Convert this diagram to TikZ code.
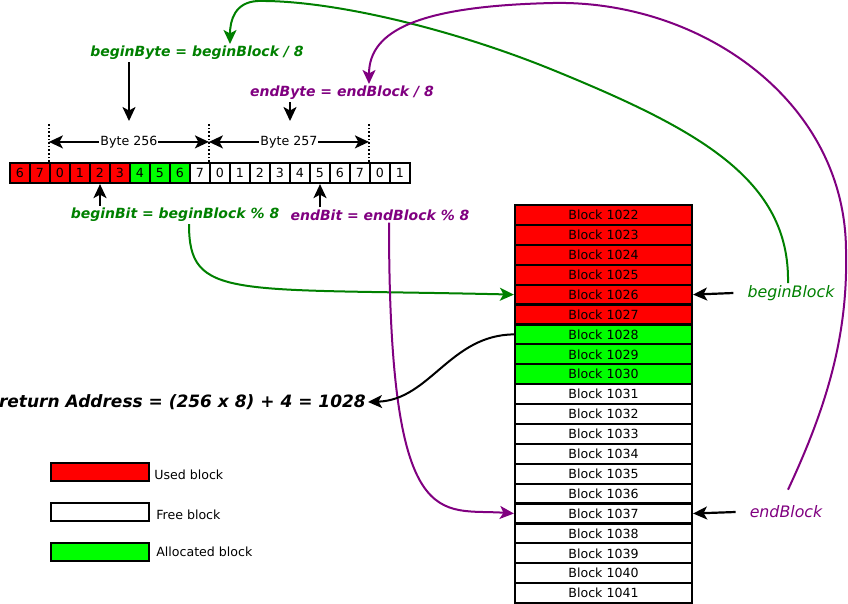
\documentclass[tikz,border=0pt]{standalone}
\usepackage{fontspec}
\setmainfont{DejaVu Sans}
\usetikzlibrary{arrows.meta,positioning}

\definecolor{usedc}{RGB}{255,0,0}
\definecolor{allocc}{RGB}{0,255,0}
\definecolor{grn}{RGB}{0,128,0}
\definecolor{prp}{RGB}{128,0,128}

\begin{document}
\begin{tikzpicture}[
    x=1pt, y=-1pt,
    >={Stealth[length=14pt,width=13pt,inset=3.5pt]},
    font=\fontsize{12.6}{14}\selectfont,
    blk/.style={rectangle, draw, line width=2.2pt, minimum width=177pt, minimum height=19.9pt, inner sep=0pt},
    bitcell/.style={rectangle, draw, line width=2.2pt, minimum width=20pt, minimum height=20pt, inner sep=0pt},
    legbox/.style={rectangle, draw, line width=2.2pt, minimum width=98pt, minimum height=18pt, inner sep=0pt},
    formula/.style={font=\fontsize{14}{16}\selectfont\bfseries\itshape, inner sep=2pt},
    ptrlbl/.style={font=\fontsize{15.8}{18}\selectfont\itshape, inner sep=2pt},
    arrow/.style={->, line width=2.2pt},
    curve/.style={->, line width=2pt}
]
\useasboundingbox (0,0) rectangle (848,604);

% Block column
\foreach \c [count=\i from 0] in {usedc,usedc,usedc,usedc,usedc,usedc,allocc,allocc,allocc,white,white,white,white,white,white,white,white,white,white,white} {
    \pgfmathtruncatemacro\n{1022+\i}
    \node[blk, fill=\c] (blk\i) at (603.5,{215+19.9*\i}) {Block \n};
}

% Bitmap row
\foreach \d/\c [count=\i from 0] in {6/usedc,7/usedc,0/usedc,1/usedc,2/usedc,3/usedc,4/allocc,5/allocc,6/allocc,7/white,0/white,1/white,2/white,3/white,4/white,5/white,6/white,7/white,0/white,1/white}
    \node[bitcell, fill=\c] (bit\i) at ({20+20*\i},173) {\d};

% Byte limits
\draw[dotted, line width=1.6pt] (bit2.north west) -- ++(0,-38);
\draw[dotted, line width=1.6pt] (bit10.north west) -- ++(0,-38);
\draw[dotted, line width=1.6pt] (bit18.north west) -- ++(0,-38);
\draw[<->, line width=1.8pt] ([yshift=20]bit2.north west) -- node[fill=white, inner sep=1pt] {Byte 256} ([yshift=20]bit10.north west);
\draw[<->, line width=1.8pt] ([yshift=20]bit10.north west) -- node[fill=white, inner sep=1pt] {Byte 257} ([yshift=20]bit18.north west);

% Formulas
\node[formula, text=grn] (bbyte) at (197,53) {beginByte = beginBlock / 8};
\node[formula, text=prp] (ebyte) at (342,93) {endByte = endBlock / 8};
\node[formula, text=grn] (bbit) at (175,215) {beginBit = beginBlock \% 8};
\node[formula, text=prp] (ebit) at (380,215) {endBit = endBlock \% 8};
\node[formula, font=\fontsize{17}{19}\selectfont\bfseries\itshape, anchor=east] (ret) at (368,402) {return Address = (256 x 8) + 4 = 1028};

% Pointers
\node[ptrlbl, text=grn] (bblock) at (791,293) {beginBlock};
\node[ptrlbl, text=prp] (eblock) at (786,512) {endBlock};

% Legend
\node[legbox, fill=usedc] (leg1) at (100,472) {};
\node[right=4pt of leg1, inner sep=0pt, yshift=-3pt] {Used block};
\node[legbox, fill=white] (leg2) at (100,512) {};
\node[right=6pt of leg2, inner sep=0pt, yshift=-3pt] {Free block};
\node[legbox, fill=allocc] (leg3) at (100,552) {};
\node[right=6pt of leg3, inner sep=0pt] {Allocated block};

% Arrows
\draw[arrow] ([xshift=-68]bbyte.south) -- ++(0,59);
\draw[arrow] ([xshift=-52]ebyte.south) -- ++(0,19);
\draw[arrow] (bbit.north -| bit4.south) -- (bit4.south);
\draw[arrow] (ebit.north -| bit15.south) -- (bit15.south);
\draw[arrow] ([xshift=-12]bblock.west) -- (blk4.east);
\draw[arrow] ([xshift=-12]eblock.west) -- (blk15.east);

% Curves
\draw[curve, grn] ([xshift=-3]bblock.north) .. controls (790,180) and (700,130) .. (553,70)
    .. controls (450,28) and (330,0) .. (258,1) .. controls (235,2) and (230,20) .. ([xshift=33]bbyte.north);
\draw[curve, prp] ([xshift=2,yshift=14]eblock.north) .. controls (830,400) and (848,330) .. (846,250)
    .. controls (845,100) and (700,0) .. (553,3) .. controls (420,6) and (369,30) .. ([xshift=27]ebyte.north);
\draw[curve, grn] ([xshift=14]bbit.south) .. controls (189,300) and (230,288) .. (blk4.west);
\draw[curve, prp] ([xshift=9]ebit.south) .. controls (389,540) and (440,508) .. (blk15.west);
\draw[curve, black] (blk6.west) .. controls (450,335) and (430,400) .. (ret.east);

\end{tikzpicture}
\end{document}
